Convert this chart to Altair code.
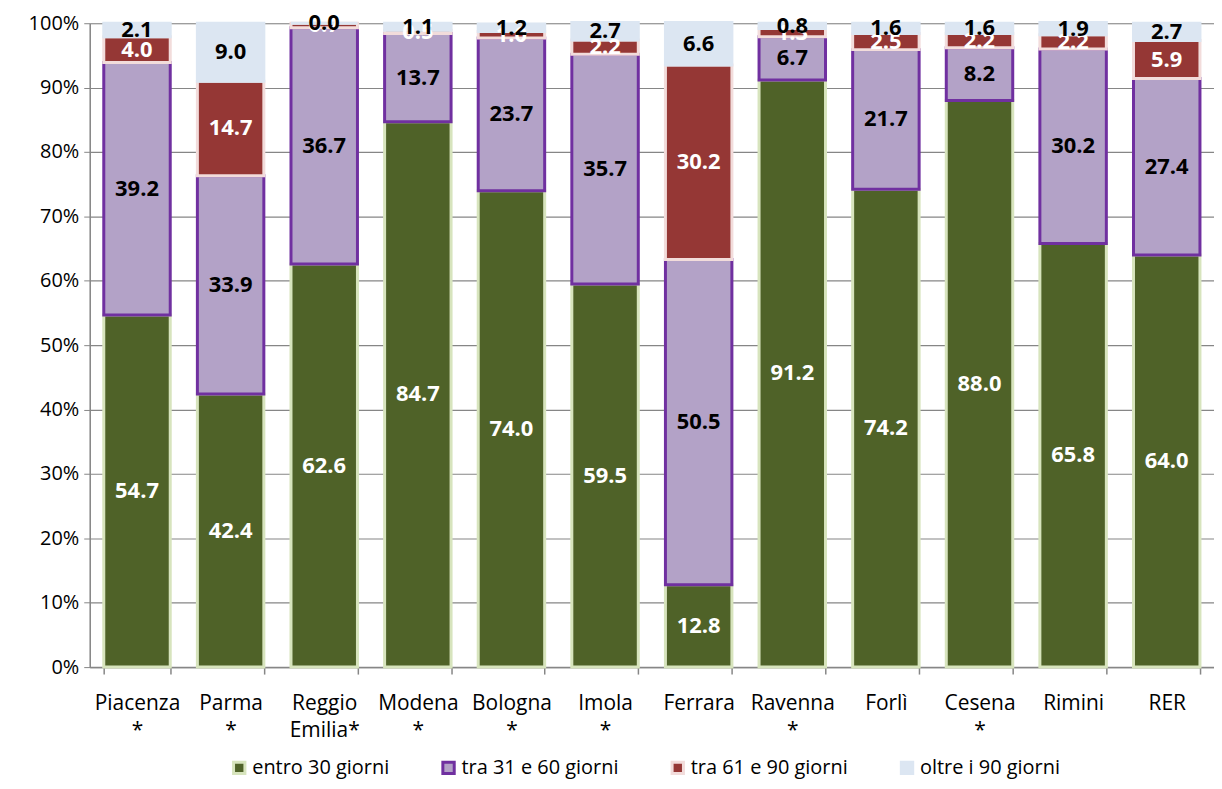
import altair as alt
import pandas as pd

categories = ["Piacenza|*", "Parma|*", "Reggio|Emilia*", "Modena|*", "Bologna|*", "Imola|*",
              "Ferrara", "Ravenna|*", "Forlì", "Cesena|*", "Rimini", "RER"]
series = ["entro 30 giorni", "tra 31 e 60 giorni", "tra 61 e 90 giorni", "oltre i 90 giorni"]
entro30 = [54.7, 42.4, 62.6, 84.7, 74.0, 59.5, 12.8, 91.2, 74.2, 88.0, 65.8, 64.0]
tra31_60 = [39.2, 33.9, 36.7, 13.7, 23.7, 35.7, 50.5, 6.7, 21.7, 8.2, 30.2, 27.4]
tra61_90 = [4.0, 14.7, 0.7, 0.5, 1.0, 2.2, 30.2, 1.3, 2.5, 2.2, 2.2, 5.9]
oltre90 = [2.1, 9.0, 0.0, 1.1, 1.2, 2.7, 6.6, 0.8, 1.6, 1.6, 1.9, 2.7]

fills = ["#4f6228", "#b3a2c7", "#953735", "#dce6f2"]
strokes = ["#d7e4bd", "#7030a0", "#f2dcdb", "#dce6f2"]
text_colors = ["white", "black", "white", "black"]

rows = []
for vals, s, i in zip([entro30, tra31_60, tra61_90, oltre90], series, range(4)):
    for c, v in zip(categories, vals):
        rows.append({"cat": c, "series": s, "idx": i, "value": v})
df = pd.DataFrame(rows)

FONT = "Open Sans"

base = alt.Chart(df).transform_stack(
    stack="value", groupby=["cat"], as_=["y0", "y1"],
    sort=[alt.SortField("idx", order="ascending")]
).transform_calculate(
    p0="datum.y0/100", p1="datum.y1/100", mid="(datum.y0+datum.y1)/200"
)

x = alt.X("cat:N", sort=categories, title=None,
          scale=alt.Scale(paddingInner=0.29, paddingOuter=0.15),
          axis=alt.Axis(labelExpr="split(datum.label, '|')", labelAngle=0,
                        labelFontSize=21, labelColor="black", labelFont=FONT,
                        labelPadding=19, labelLineHeight=27,
                        tickBand="extent", ticks=True, tickSize=7, tickColor="#868686",
                        domainColor="#868686", domainWidth=1.5, tickWidth=1.5))

legend = alt.Legend(title=None, orient="none", direction="horizontal",
                    legendX=140, legendY=737, columns=4,
                    symbolType="square", symbolSize=130, symbolStrokeWidth=3,
                    labelFontSize=20, labelFont=FONT, labelColor="black",
                    columnPadding=47, labelOffset=3)

bars = base.mark_bar(strokeWidth=3).encode(
    x=x,
    y=alt.Y("p0:Q", scale=alt.Scale(domain=[0, 1]), title=None,
            axis=alt.Axis(format=".0%", values=[i / 10 for i in range(11)],
                          labelFontSize=20, labelColor="black", labelFont=FONT,
                          gridColor="#868686", gridWidth=1.2, domainColor="#868686",
                          domainWidth=1.5, tickColor="#868686", tickSize=6, labelPadding=5)),
    y2="p1:Q",
    fill=alt.Fill("series:N", sort=series, scale=alt.Scale(domain=series, range=fills),
                  legend=legend),
    stroke=alt.Stroke("series:N", sort=series, scale=alt.Scale(domain=series, range=strokes),
                      legend=legend),
    order=alt.Order("idx:Q", sort="ascending"),
)

labels = base.mark_text(fontSize=22, fontWeight="bold", font=FONT, baseline="middle").encode(
    x=alt.X("cat:N", sort=categories),
    y=alt.Y("mid:Q"),
    text=alt.Text("value:Q", format=".1f"),
    color=alt.Color("series:N", scale=alt.Scale(domain=series, range=text_colors), legend=None),
)

chart = alt.layer(bars, labels).resolve_scale(color="independent").properties(
    width=1128, height=646,
    padding={"left": 82, "top": 14, "right": 0, "bottom": 113},
    autosize=alt.AutoSizeParams(type="none"),
).configure_view(stroke=None).configure(font=FONT)

chart.save("out.html", embed_options={"renderer": "svg", "actions": False})
